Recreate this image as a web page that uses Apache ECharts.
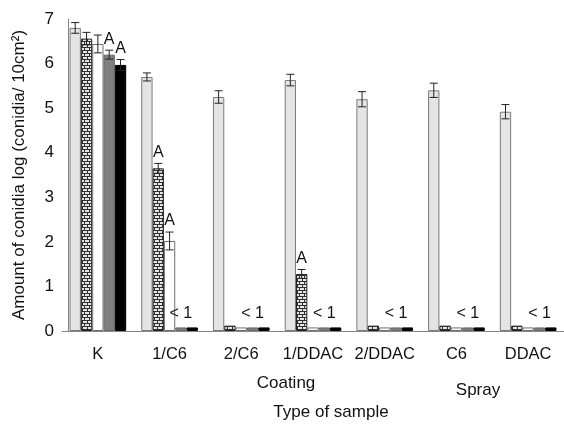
<!DOCTYPE html>
<html>
<head>
<meta charset="utf-8">
<script src="https://cdn.jsdelivr.net/npm/echarts@6/dist/echarts.min.js"></script>
<style>
  html, body { margin: 0; padding: 0; background: #fff; }
  #chart { width: 564px; height: 425px; }
</style>
</head>
<body>
<div id="chart"></div>
<script>
// data
const categories = ['K', '1/C6', '2/C6', '1/DDAC', '2/DDAC', 'C6', 'DDAC'];
const yTicks = [0, 1, 2, 3, 4, 5, 6, 7];

const s1 = [6.80, 5.70, 5.25, 5.63, 5.20, 5.40, 4.92];
const s1Err = [0.12, 0.09, 0.14, 0.13, 0.17, 0.16, 0.16];
const s2 = [6.56, 3.65, 0.12, 1.28, 0.12, 0.12, 0.12];
const s2Err = [0.14, 0.11, 0, 0.10, 0, 0, 0];
const s3 = [6.44, 2.02, 0.08, 0.08, 0.08, 0.08, 0.08];
const s3Err = [0.20, 0.20, 0, 0, 0, 0, 0];
const s4 = [6.20, 0.08, 0.08, 0.08, 0.08, 0.08, 0.08];
const s4Err = [0.10, 0, 0, 0, 0, 0, 0];
const s5 = [5.97, 0.08, 0.08, 0.08, 0.08, 0.08, 0.08];
const s5Err = [0.12, 0, 0, 0, 0, 0, 0];

// letters over the error bars
const s2Marks = ['', 'A', '', 'A', '', '', ''];
const s3Marks = ['', 'A', '', '', '', '', ''];
const s4Marks = ['A', '', '', '', '', '', ''];
const s5Marks = ['A', '', '', '', '', '', ''];
// below detection limit
const lessMarks = ['', '< 1', '< 1', '< 1', '< 1', '< 1', '< 1'];

(function(){
  const FONT = 'Liberation Sans, Arial, sans-serif';
  const FS = 17;
  const GAP = 0.21;   // bar category gap
  const N = 5;

  // brick texture
  const brick = document.createElement('canvas');
  brick.width = 10; brick.height = 6;
  const ctx = brick.getContext('2d');
  ctx.fillStyle = '#303030';
  ctx.fillRect(0, 0, 10, 6);
  ctx.fillStyle = '#e6e6e6';
  ctx.fillRect(0, 0, 4, 2); ctx.fillRect(5, 0, 4, 2);
  ctx.fillRect(0, 3, 2, 2); ctx.fillRect(3, 3, 4, 2); ctx.fillRect(8, 3, 2, 2);

  const vals = [s1, s2, s3, s4, s5];
  const errs = [s1Err, s2Err, s3Err, s4Err, s5Err];
  const marks = [null, s2Marks, s3Marks, s4Marks, s5Marks];
  const styles = [
    { color: '#e4e4e4', borderColor: '#7a7a7a', borderWidth: 1 },
    { color: { image: brick, repeat: 'repeat' }, borderColor: '#222', borderWidth: 1 },
    { color: '#ffffff', borderColor: '#6e6e6e', borderWidth: 1 },
    { color: '#7f7f7f', borderColor: '#6a6a6a', borderWidth: 1 },
    { color: '#000000', borderColor: '#000', borderWidth: 1 }
  ];

  const series = [];
  vals.forEach((v, i) => {
    series.push({
      name: 'S' + (i + 1),
      type: 'bar',
      data: v,
      barGap: '0%',
      barCategoryGap: (GAP * 100) + '%',
      itemStyle: styles[i],
      silent: true
    });
  });

  // error bars + annotations
  vals.forEach((v, i) => {
    series.push({
      type: 'custom',
      silent: true,
      z: 5,
      data: v.map((d, k) => [k, d, errs[i][k]]),
      renderItem: function(params, api){
        const k = api.value(0), val = api.value(1), e = api.value(2);
        const band = api.size([1, 0])[0];
        const group = band * (1 - GAP);
        const bw = group / N;
        const x = api.coord([k, val])[0] - group / 2 + (i + 0.5) * bw;
        const children = [];
        let topY = api.coord([k, val])[1];
        if (e > 0) {
          const yt = api.coord([k, val + e])[1];
          const yb = api.coord([k, val - e])[1];
          const st = { stroke: '#222', lineWidth: 1 };
          children.push({ type: 'line', shape: { x1: x, y1: yt, x2: x, y2: yb }, style: st });
          children.push({ type: 'line', shape: { x1: x - 4, y1: yt, x2: x + 4, y2: yt }, style: st });
          children.push({ type: 'line', shape: { x1: x - 4, y1: yb, x2: x + 4, y2: yb }, style: st });
          topY = yt;
        }
        const m = marks[i] ? marks[i][k] : '';
        if (m) {
          children.push({ type: 'text', style: { text: m, x: x, y: topY - 3, textAlign: 'center', textVerticalAlign: 'bottom', font: '16px ' + FONT, fill: '#111' } });
        }
        if (i === 3 && lessMarks[k]) {
          children.push({ type: 'text', style: { text: lessMarks[k], x: x, y: topY - 6, textAlign: 'center', textVerticalAlign: 'bottom', font: '16px ' + FONT, fill: '#111' } });
        }
        return { type: 'group', children: children };
      }
    });
  });

  const chart = echarts.init(document.getElementById('chart'), null, { renderer: 'canvas' });
  chart.setOption({
    animation: false,
    backgroundColor: '#fff',
    textStyle: { fontFamily: FONT },
    grid: { left: 62, top: 19, width: 504, bottom: 94, containLabel: false },
    xAxis: {
      type: 'category',
      data: categories,
      axisLine: { lineStyle: { color: '#868686', width: 1 } },
      axisTick: { show: false },
      axisLabel: { color: '#111', fontSize: 16.5, margin: 15, interval: 0, hideOverlap: false, fontFamily: FONT }
    },
    yAxis: {
      type: 'value',
      min: yTicks[0],
      max: yTicks[yTicks.length - 1],
      interval: 1,
      offset: -6,
      splitLine: { show: false },
      axisLine: { show: true, lineStyle: { color: '#868686', width: 1 } },
      axisTick: { show: false },
      axisLabel: { color: '#111', fontSize: FS, margin: 14, fontFamily: FONT },
      name: 'Amount of conidia log (conidia/ 10cm²)',
      nameLocation: 'middle',
      nameRotate: 90,
      nameGap: 40,
      nameTextStyle: { color: '#111', fontSize: FS, fontFamily: FONT }
    },
    graphic: [
      { type: 'text', x: 286, y: 383, style: { text: 'Coating', font: FS + 'px ' + FONT, fill: '#111', textAlign: 'center', textVerticalAlign: 'middle' } },
      { type: 'text', x: 478, y: 390, style: { text: 'Spray', font: FS + 'px ' + FONT, fill: '#111', textAlign: 'center', textVerticalAlign: 'middle' } },
      { type: 'text', x: 331, y: 412, style: { text: 'Type of sample', font: FS + 'px ' + FONT, fill: '#111', textAlign: 'center', textVerticalAlign: 'middle' } }
    ],
    series: series
  });
  window.addEventListener('resize', () => chart.resize());
})();
</script>
</body>
</html>
